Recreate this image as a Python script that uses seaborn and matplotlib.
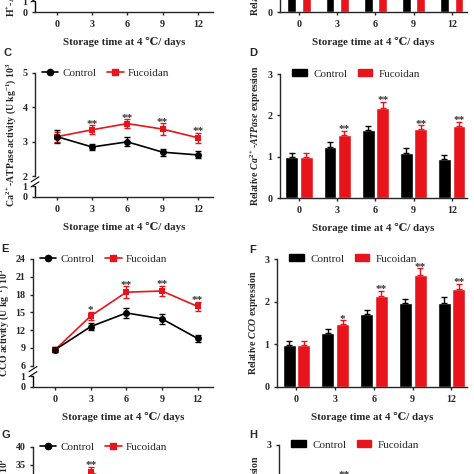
import numpy as np
import pandas as pd
import matplotlib
matplotlib.use("Agg")
import matplotlib.pyplot as plt
import matplotlib.transforms as mtrans
from matplotlib.patches import Patch
from matplotlib.lines import Line2D
import seaborn as sns

days = [0, 3, 6, 9, 12]
groups = ["Control", "Fucoidan"]

# A: H+-ATPase activity (only its x axis is inside the crop)
a_ctrl = [3.1, 2.8, 2.9, 2.6, 2.5]
a_ctrl_sd = [0.15, 0.1, 0.1, 0.1, 0.1]
a_fuc = [3.1, 3.3, 3.5, 3.3, 3.1]
a_fuc_sd = [0.15, 0.12, 0.12, 0.12, 0.12]

# B: relative H+-ATPase expression (only the bar bottoms are inside the crop)
b_ctrl = [1.0, 1.3, 1.6, 1.2, 1.0]
b_ctrl_sd = [0.1, 0.1, 0.1, 0.1, 0.1]
b_fuc = [1.0, 1.6, 2.1, 1.8, 1.7]
b_fuc_sd = [0.1, 0.1, 0.1, 0.1, 0.1]

# C: Ca2+-ATPase activity
c_ctrl = [3.15, 2.85, 3.0, 2.7, 2.62]
c_ctrl_sd = [0.18, 0.1, 0.13, 0.1, 0.1]
c_fuc = [3.15, 3.35, 3.53, 3.37, 3.12]
c_fuc_sd = [0.15, 0.13, 0.12, 0.17, 0.15]
c_stars = ["", "**", "**", "**", "**"]

# D: relative Ca2+-ATPase expression
d_ctrl = [1.0, 1.23, 1.65, 1.1, 0.95]
d_ctrl_sd = [0.1, 0.12, 0.1, 0.1, 0.08]
d_fuc = [1.0, 1.52, 2.18, 1.68, 1.75]
d_fuc_sd = [0.1, 0.11, 0.15, 0.08, 0.1]
d_stars = ["", "**", "**", "**", "**"]

# E: CCO activity
e_ctrl = [8.7, 12.6, 14.9, 13.9, 10.6]
e_ctrl_sd = [0.4, 0.6, 0.9, 0.8, 0.6]
e_fuc = [8.7, 14.4, 18.4, 18.6, 16.0]
e_fuc_sd = [0.4, 0.7, 1.0, 0.9, 0.8]
e_stars = ["", "*", "**", "**", "**"]

# F: relative CCO expression
f_ctrl = [0.99, 1.27, 1.7, 1.96, 1.96]
f_ctrl_sd = [0.08, 0.1, 0.1, 0.1, 0.15]
f_fuc = [0.99, 1.48, 2.13, 2.63, 2.3]
f_fuc_sd = [0.08, 0.08, 0.13, 0.15, 0.12]
f_stars = ["", "*", "**", "**", "**"]

# G / H: only their tops are inside the crop
g_ctrl = [20.0, 25.0, 24.0, 22.0, 18.0]
g_ctrl_sd = [1.0, 1.0, 1.0, 1.0, 1.0]
g_fuc = [20.0, 33.0, 28.0, 26.0, 24.0]
g_fuc_sd = [1.0, 1.5, 1.0, 1.0, 1.0]
g_stars = ["", "**", "**", "**", "**"]

h_ctrl = [1.0, 1.3, 1.5, 1.2, 1.0]
h_ctrl_sd = [0.1, 0.1, 0.1, 0.1, 0.1]
h_fuc = [1.0, 2.1, 1.6, 1.5, 1.3]
h_fuc_sd = [0.1, 0.15, 0.1, 0.1, 0.1]
h_stars = ["", "**", "**", "**", "**"]

RED = "#e8141b"
colors = {"Control": "black", "Fucoidan": RED}
xlabel = "Storage time at 4 \u2103/ days"

sns.set_theme(style="ticks")
plt.rcParams["font.family"] = ["Liberation Serif", "DejaVu Serif"]
plt.rcParams["font.weight"] = "bold"
plt.rcParams["mathtext.fontset"] = "custom"
plt.rcParams["mathtext.rm"] = "Liberation Serif:bold"
plt.rcParams["mathtext.it"] = "Liberation Serif:italic:bold"
plt.rcParams["mathtext.bf"] = "Liberation Serif:bold"
plt.rcParams["axes.linewidth"] = 1.0
plt.rcParams["xtick.major.width"] = 1.0
plt.rcParams["ytick.major.width"] = 1.0
plt.rcParams["xtick.major.size"] = 2.5
plt.rcParams["ytick.major.size"] = 2.5

W = 474
fig = plt.figure(figsize=(4.74, 4.74), dpi=100)


def rect(l, r, t, b):
    return [l / W, 1 - b / W, (r - l) / W, (b - t) / W]


def style(ax, ylab):
    sns.despine(ax=ax)
    ax.set_xlabel(xlabel, fontsize=7.8, fontweight="bold", labelpad=6)
    ax.set_ylabel(ylab, fontsize=7, fontweight="bold", labelpad=3)
    ax.tick_params(labelsize=7.2, pad=3)
    for t in ax.get_xticklabels() + ax.get_yticklabels():
        t.set_fontweight("bold")


def stars_at(ax, xs, tops, marks):
    for x, y, s in zip(xs, tops, marks):
        if s:
            ax.annotate(s, (x, y), xytext=(0, -1), textcoords="offset points",
                        ha="center", va="baseline", fontsize=8,
                        fontweight="bold", color="#333333")


def line_panel(ax, ctrl, csd, fuc, fsd, marks, vals, pos, yticks, ylab):
    fwd = lambda y: np.interp(y, vals, pos)
    inv = lambda p: np.interp(p, pos, vals)
    ax.set_yscale("function", functions=(fwd, inv))
    df = pd.DataFrame({"day": days * 2, "value": ctrl + fuc,
                       "group": ["Control"] * 5 + ["Fucoidan"] * 5})
    sns.lineplot(data=df, x="day", y="value", hue="group", style="group",
                 markers={"Control": "o", "Fucoidan": "s"}, dashes=False,
                 palette=colors, markersize=5, markeredgewidth=0,
                 linewidth=1.2, errorbar=None, legend=False, ax=ax,
                 hue_order=["Fucoidan", "Control"])
    ax.errorbar(days, fuc, yerr=fsd, fmt="none", ecolor=RED, capsize=2.2, elinewidth=1.0)
    ax.errorbar(days, ctrl, yerr=csd, fmt="none", ecolor="black", capsize=2.2, elinewidth=1.0)
    stars_at(ax, days, np.array(fuc) + np.array(fsd), marks)
    ax.set_xlim(-1.87, 13.3)
    ax.set_xticks(days)
    ax.set_ylim(vals[0], vals[-1])
    ax.set_yticks(yticks)
    style(ax, ylab)
    # broken y axis
    ax.spines["left"].set_bounds(vals[2], vals[-1])
    tr = mtrans.blended_transform_factory(ax.transAxes, ax.transData)
    ax.plot([0, 0], [vals[0], vals[1]], transform=tr, color="black", lw=1.0, clip_on=False)
    mid = (pos[1] + pos[2]) / 2 / pos[-1]
    for dy in (-0.025, 0.015):
        ax.plot([-0.022, 0.022], [mid + dy - 0.02, mid + dy + 0.02], transform=ax.transAxes,
                color="black", lw=0.8, clip_on=False)
    handles = [Line2D([], [], color="black", marker="o", ms=4.5, lw=1.2),
               Line2D([], [], color=RED, marker="s", ms=4.5, lw=1.2)]
    ax.legend(handles, groups, ncol=2, frameon=False, loc="center left",
              bbox_to_anchor=(0.0, 1.0), handlelength=1.5, columnspacing=0.9,
              handletextpad=0.4, borderaxespad=0.2,
              prop={"size": 8, "weight": "normal"})


def bar_panel(ax, ctrl, csd, fuc, fsd, marks, ylim, yticks, ylab, gap=0.12):
    df = pd.DataFrame({"day": [str(d) for d in days] * 2, "value": ctrl + fuc,
                       "group": ["Control"] * 5 + ["Fucoidan"] * 5})
    sns.barplot(data=df, x="day", y="value", hue="group", order=[str(d) for d in days],
                hue_order=groups, palette=colors, width=0.76, gap=gap,
                errorbar=None, saturation=1, legend=False, ax=ax)
    for cont, sd, g in zip(ax.containers, [csd, fsd], groups):
        xs = [p.get_x() + p.get_width() / 2 for p in cont.patches]
        ys = [p.get_height() for p in cont.patches]
        ax.errorbar(xs, ys, yerr=[np.zeros(5), sd], fmt="none", ecolor=colors[g],
                    capsize=2.2, elinewidth=1.0)
        if g == "Fucoidan":
            stars_at(ax, xs, np.array(ys) + np.array(sd), marks)
    ax.set_xlim(-0.5, 4.4)
    ax.set_ylim(*ylim)
    ax.set_yticks(yticks)
    style(ax, ylab)
    handles = [Patch(color="black"), Patch(color=RED)]
    ax.legend(handles, groups, ncol=2, frameon=False, loc="center left",
              bbox_to_anchor=(0.03, 1.0), handlelength=1.3, handleheight=0.6,
              columnspacing=0.9, handletextpad=0.6, borderaxespad=0.2,
              prop={"size": 8, "weight": "normal"})


# A
axA = fig.add_axes(rect(35, 213, -112, 12))
line_panel(axA, a_ctrl, a_ctrl_sd, a_fuc, a_fuc_sd, ["", "", "", "", ""],
           [0, 1, 2, 5], [0, 10.7, 20.7, 123.7], [0, 1, 2, 3, 4, 5],
           "H$^{+}$-ATPase activity (U kg$^{-1}$) 10$^{3}$")
# B
axB = fig.add_axes(rect(280, 467, -112, 12))
bar_panel(axB, b_ctrl, b_ctrl_sd, b_fuc, b_fuc_sd, ["", "", "", "", ""],
          (0, 3), [0, 1, 2, 3], "Relative $\\mathit{H^{+}}$-$\\mathit{ATPase}$ expression", gap=0.4)
# C
axC = fig.add_axes(rect(35, 213, 73, 197))
line_panel(axC, c_ctrl, c_ctrl_sd, c_fuc, c_fuc_sd, c_stars,
           [0, 1, 2, 5], [0, 10.7, 20.7, 123.7], [0, 1, 2, 3, 4, 5],
           "Ca$^{2+}$-ATPase activity (U kg$^{-1}$) 10$^{3}$")
# D
axD = fig.add_axes(rect(280, 467, 74, 198))
bar_panel(axD, d_ctrl, d_ctrl_sd, d_fuc, d_fuc_sd, d_stars,
          (0, 3), [0, 1, 2, 3], "Relative $\\mathit{Ca^{2+}}$-$\\mathit{ATPase}$ expression")
# E
axE = fig.add_axes(rect(33, 213, 259, 387))
line_panel(axE, e_ctrl, e_ctrl_sd, e_fuc, e_fuc_sd, e_stars,
           [0, 1, 6, 24], [0, 10.7, 21.3, 128], [0, 1, 6, 9, 12, 15, 18, 21, 24],
           "CCO activity (U kg$^{-1}$) 10$^{3}$")
# F
axF = fig.add_axes(rect(277, 467, 259, 387))
bar_panel(axF, f_ctrl, f_ctrl_sd, f_fuc, f_fuc_sd, f_stars,
          (0, 3), [0, 1, 2, 3], "Relative $\\mathit{CCO}$ expression")
# G
axG = fig.add_axes(rect(33, 213, 447, 575))
line_panel(axG, g_ctrl, g_ctrl_sd, g_fuc, g_fuc_sd, g_stars,
           [0, 1, 10, 40], [0, 10.7, 21.3, 128], [0, 1, 10, 15, 20, 25, 30, 35, 40],
           "SDH activity (U kg$^{-1}$) 10$^{3}$")
# H
axH = fig.add_axes(rect(279, 467, 445, 570))
bar_panel(axH, h_ctrl, h_ctrl_sd, h_fuc, h_fuc_sd, h_stars,
          (0, 3), [0, 1, 2, 3], "Relative $\\mathit{SDH}$ expression")

for letter, x, y in [("C", 3, 53), ("D", 249, 53), ("E", 1, 249), ("F", 249, 250),
                     ("G", 1, 435), ("H", 249, 435)]:
    fig.text(x / W, 1 - y / W, letter, family="Liberation Sans", fontweight="bold",
             fontsize=8, ha="left", va="center")

fig.savefig("out.png", dpi=100)
